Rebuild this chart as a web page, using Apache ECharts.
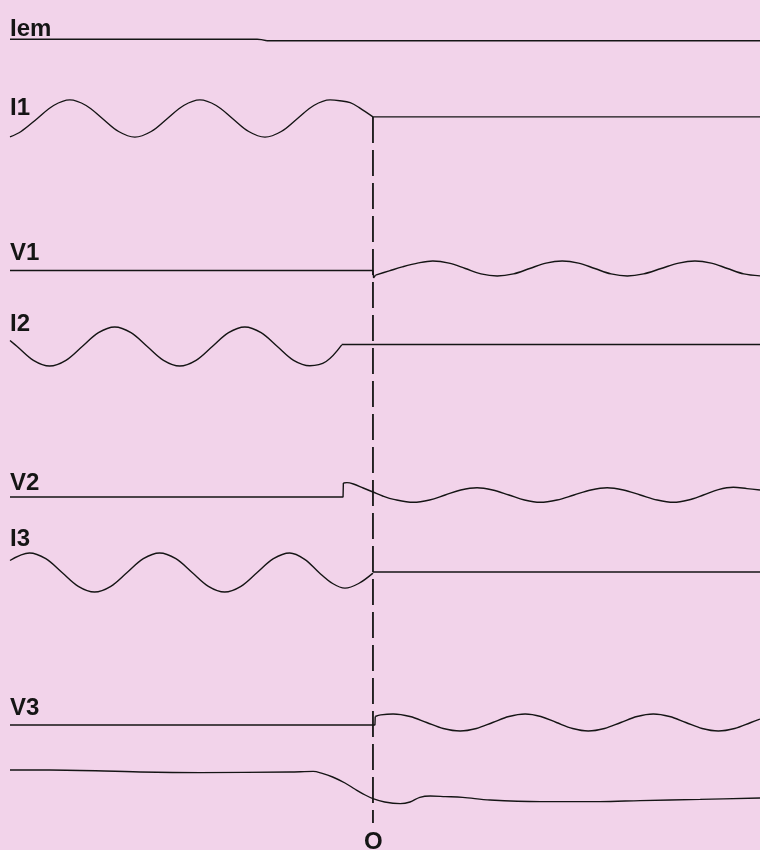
<!DOCTYPE html>
<html>
<head>
<meta charset="utf-8">
<script src="https://cdn.jsdelivr.net/npm/echarts@6/dist/echarts.min.js"></script>
<style>
html,body{margin:0;padding:0;background:#f2d3ea;}
#chart{width:760px;height:850px;}
</style>
</head>
<body>
<div id="chart"></div>
<script>
// Time in ms relative to breaker opening instant "O" (t = 0); values in per-unit of each channel.
const channelLabels = ['Iem', 'I1', 'V1', 'I2', 'V2', 'I3', 'V3', ''];
const faultLabel = 'O';
const timeRange = [-55.8, 59.5];

const iemPre = [[-55.8, 0.04], [-17.8, 0.04], [-16.3, -0.035]];
const iemPost = [[-16.3, -0.035], [59.5, -0.04]];

const i1Wave = [[-55.8, -0.92], [-54.1, -0.65], [-51.6, 0], [-49.1, 0.65], [-46.6, 0.93], [-44.1, 0.65], [-41.6, 0], [-39.1, -0.65], [-36.6, -0.93], [-34.1, -0.65], [-31.6, 0], [-29.1, 0.65], [-26.6, 0.93], [-24.1, 0.65], [-21.6, 0], [-19.1, -0.65], [-16.6, -0.93], [-14.1, -0.65], [-11.6, 0], [-9.1, 0.65], [-6.6, 0.93], [-5.1, 0.89], [-3.5, 0.79], [-2.0, 0.52], [0, 0.08]];
const i1Post = [[0, 0.08], [59.5, 0.08]];

const v1Pre = [[-55.8, -0.1], [0, -0.1], [0.1, -0.47], [0.4, -0.33]];
const v1Wave = [[0.4, -0.33], [2.5, -0.12], [4.5, 0.08], [7.0, 0.28], [9.2, 0.375], [11.7, 0.27], [14.2, 0], [16.6, -0.27], [19.1, -0.375], [21.6, -0.27], [24.1, 0], [26.6, 0.27], [29.1, 0.375], [31.6, 0.27], [34.1, 0], [36.6, -0.27], [39.1, -0.375], [41.6, -0.27], [44.3, 0], [47.0, 0.27], [49.5, 0.375], [52.0, 0.27], [54.5, 0], [57.0, -0.27], [59.5, -0.37]];

const i2Wave = [[-55.8, 0.3], [-54.7, 0], [-52.2, -0.69], [-49.7, -0.975], [-47.2, -0.69], [-44.7, 0], [-42.2, 0.69], [-39.7, 0.975], [-37.2, 0.69], [-34.7, 0], [-32.2, -0.69], [-29.7, -0.975], [-27.2, -0.69], [-24.7, 0], [-22.2, 0.69], [-19.7, 0.975], [-17.2, 0.69], [-14.7, 0], [-12.2, -0.69], [-9.7, -0.96], [-7.2, -0.75], [-4.8, 0.08]];
const i2Post = [[-4.8, 0.1], [59.5, 0.1]];

const v2Pre = [[-55.8, -0.1], [-4.6, -0.1], [-4.55, 0.6]];
const v2Wave = [[-4.55, 0.6], [-4.0, 0.62], [-3.0, 0.55], [-1.5, 0.35], [0, 0.15], [1.5, -0.05], [3.2, -0.22], [6.2, -0.365], [8.7, -0.25], [11.1, 0], [13.5, 0.25], [16.0, 0.365], [18.4, 0.25], [20.9, 0], [23.3, -0.25], [25.7, -0.365], [28.3, -0.25], [30.9, 0], [33.5, 0.25], [36.0, 0.365], [38.5, 0.25], [41.1, 0], [43.7, -0.25], [46.2, -0.365], [48.5, -0.25], [50.8, 0], [53.1, 0.27], [55.4, 0.39], [57.5, 0.32], [59.5, 0.25]];

const i3Wave = [[-55.8, 0.6], [-52.8, 0.975], [-50.3, 0.69], [-47.8, 0], [-45.3, -0.69], [-42.8, -0.975], [-40.3, -0.69], [-37.8, 0], [-35.3, 0.69], [-32.8, 0.975], [-30.3, 0.69], [-27.8, 0], [-25.3, -0.69], [-22.8, -0.975], [-20.3, -0.69], [-17.8, 0], [-15.3, 0.69], [-12.8, 0.975], [-10.5, 0.66], [-8.3, 0], [-6.2, -0.55], [-4.3, -0.78], [-2.2, -0.55], [0, -0.03]];
const i3Post = [[0, 0.025], [59.5, 0.025]];

const v3Pre = [[-55.8, -0.125], [0.3, -0.125], [0.35, 0.3]];
const v3Wave = [[0.35, 0.3], [1.2, 0.38], [3.1, 0.425], [5.7, 0.3], [8.25, 0], [10.8, -0.3], [13.4, -0.425], [15.9, -0.3], [18.4, 0], [20.9, 0.3], [23.4, 0.425], [25.8, 0.3], [28.2, 0], [30.7, -0.3], [33.1, -0.425], [35.6, -0.3], [38.1, 0], [40.6, 0.3], [43.1, 0.425], [45.6, 0.3], [48.1, 0], [50.6, -0.3], [53.1, -0.425], [55.6, -0.3], [58.1, 0], [59.5, 0.17]];

const bottomTrace = [[-55.8, 0.75], [-49.7, 0.75], [-35.8, 0.65], [-26.6, 0.62], [-12.8, 0.65], [-9.2, 0.68], [-7.8, 0.58], [-6.2, 0.4], [-4.3, 0.1], [-2.8, -0.2], [-1.2, -0.5], [0, -0.68], [1.8, -0.85], [4.2, -0.93], [5.7, -0.85], [7.2, -0.62], [8.8, -0.55], [11.1, -0.58], [13.8, -0.62], [18.0, -0.75], [25.7, -0.83], [34.9, -0.83], [41.1, -0.78], [50.3, -0.72], [59.5, -0.65]];

const markerLine = [[0, 1], [0, 0]];

// ---------- layout ----------
const mids = [40, 118.5, 268.5, 346.5, 495, 572.5, 722.5, 785];
const labelTops = [17, 96, 241, 312, 471, 527, 696];
const band = 60;
const ink = '#151515';
const labelFont = {color: ink, fontFamily: '"Liberation Sans", Arial, sans-serif', fontWeight: 'bold', fontSize: 24};

const grids = [], xAxes = [], yAxes = [], series = [];
mids.forEach((m, i) => {
  grids.push({left: 10, right: 0, top: m - band / 2, height: band, containLabel: false});
  xAxes.push({type: 'value', gridIndex: i, min: timeRange[0], max: timeRange[1], show: false});
  yAxes.push({type: 'value', gridIndex: i, min: -1.5, max: 1.5, show: false});
});
// grid for the breaker-opening marker
grids.push({left: 10, right: 0, top: 117, bottom: 27});
xAxes.push({type: 'value', gridIndex: 8, min: timeRange[0], max: timeRange[1], show: false});
yAxes.push({type: 'value', gridIndex: 8, min: 0, max: 1, show: false});

function addLine(idx, data, smooth) {
  series.push({
    type: 'line', xAxisIndex: idx, yAxisIndex: idx, data: data,
    smooth: smooth ? 0.35 : false, showSymbol: false, symbol: 'none', silent: true,
    lineStyle: {color: ink, width: 1.4}, z: 2
  });
}
addLine(0, iemPre, true); addLine(0, iemPost, false);
addLine(1, i1Wave, true); addLine(1, i1Post, false);
addLine(2, v1Pre, false); addLine(2, v1Wave, true);
addLine(3, i2Wave, true); addLine(3, i2Post, false);
addLine(4, v2Pre, false); addLine(4, v2Wave, true);
addLine(5, i3Wave, true); addLine(5, i3Post, false);
addLine(6, v3Pre, false); addLine(6, v3Wave, true);
addLine(7, bottomTrace, true);
series.push({
  type: 'line', xAxisIndex: 8, yAxisIndex: 8, data: markerLine, showSymbol: false, symbol: 'none',
  silent: true, lineStyle: {color: ink, width: 1.8, type: [26, 7]}, z: 3
});

const titles = channelLabels.filter(t => t).map((t, i) => ({
  text: t, left: 10, top: labelTops[i], padding: 0,
  textStyle: labelFont
}));
titles.push({text: faultLabel, left: 364, top: 830, padding: 0, textStyle: labelFont});

const chart = echarts.init(document.getElementById('chart'), null, {renderer: 'canvas'});
chart.setOption({
  backgroundColor: '#f2d3ea',
  animation: false,
  title: titles,
  grid: grids,
  xAxis: xAxes,
  yAxis: yAxes,
  series: series
});
</script>
</body>
</html>
